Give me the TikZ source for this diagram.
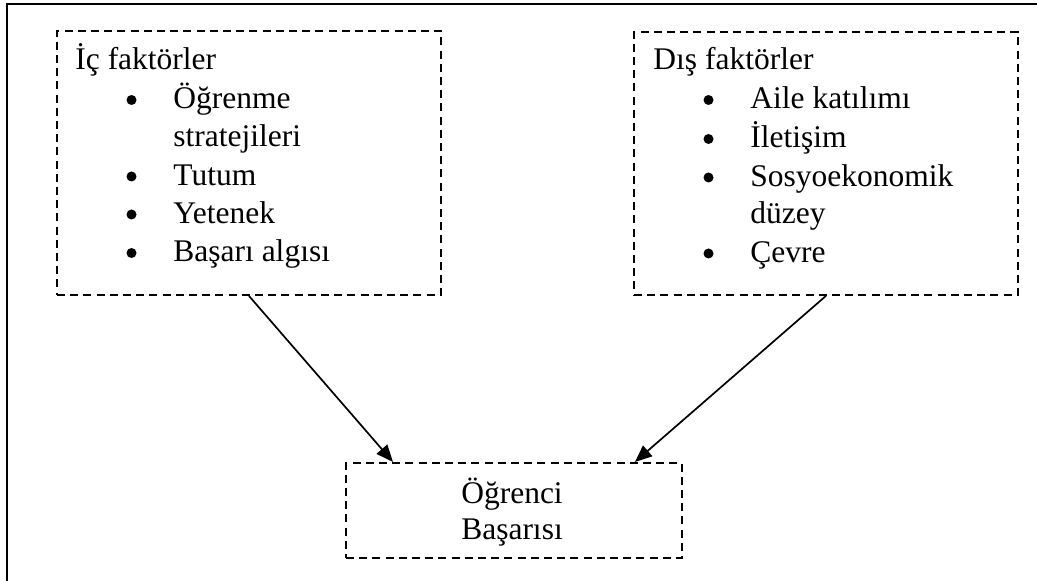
\documentclass[tikz,border=0pt]{standalone}
\usepackage{fontspec}
\setmainfont{Liberation Serif}
\usetikzlibrary{arrows.meta,calc}
\begin{document}
\begin{tikzpicture}[x=0.5pt,y=-0.5pt,
 frame/.style={line width=1.4pt},
 dbox/.style={draw,dash pattern=on 4pt off 2.6pt,line width=0.95pt,rectangle,inner sep=0pt,anchor=north west},
 txt/.style={anchor=base west,inner sep=0pt,font=\fontsize{15.75}{19.25}\selectfont},
 bul/.style={anchor=center,inner sep=0pt,circle,fill=black,minimum size=5pt},
 ctxt/.style={anchor=base,inner sep=0pt,font=\fontsize{15.75}{19.25}\selectfont},
 conn/.style={line width=0.85pt,-{Triangle[length=8.5pt,width=7pt]}}]
\useasboundingbox (0,0) rectangle (1037,581);
\draw[frame] (7,581) -- (7,4) -- (1037,4);
% boxes
\node[dbox,minimum width=192pt,minimum height=132pt] (lbox) at (56,30) {};
\node[dbox,minimum width=192pt,minimum height=131.5pt] (rbox) at (633,31) {};
\node[dbox,minimum width=168pt,minimum height=47.5pt] (bbox) at (345,462) {};
% left text
\node[txt] (lt) at (75,70) {İç faktörler};
\node[bul] (lb1) at (131.5,100) {};
\node[txt] (li1) at (173,109) {Öğrenme};
\node[txt] (li1b) at (173,147) {stratejileri};
\node[bul] (lb2) at (131.5,176.5) {};
\node[txt] (li2) at (173,185.5) {Tutum};
\node[bul] (lb3) at (131.5,214.5) {};
\node[txt] (li3) at (173,223.5) {Yetenek};
\node[bul] (lb4) at (131.5,253) {};
\node[txt] (li4) at (173,262) {Başarı algısı};
% right text
\node[txt] (rt) at (653,70) {Dış faktörler};
\node[bul] (rb1) at (708.5,100) {};
\node[txt] (ri1) at (750,109) {Aile katılımı};
\node[bul] (rb2) at (708.5,139) {};
\node[txt] (ri2) at (750,148) {İletişim};
\node[bul] (rb3) at (708.5,177.5) {};
\node[txt] (ri3) at (750,186.5) {Sosyoekonomik};
\node[txt] (ri3b) at (750,224) {düzey};
\node[bul] (rb4) at (708.5,253.5) {};
\node[txt] (ri4) at (750,262.5) {Çevre};
% bottom text
\node[ctxt] (bt1) at (512,503) {Öğrenci};
\node[ctxt] (bt2) at (512,539) {Başarısı};
% connectors
\draw[conn] (lbox.south) -- ($(bbox.north west)+(48,0)$);
\draw[conn] (rbox.south) -- ($(bbox.north east)+(-48,0)$);
\end{tikzpicture}
\end{document}
